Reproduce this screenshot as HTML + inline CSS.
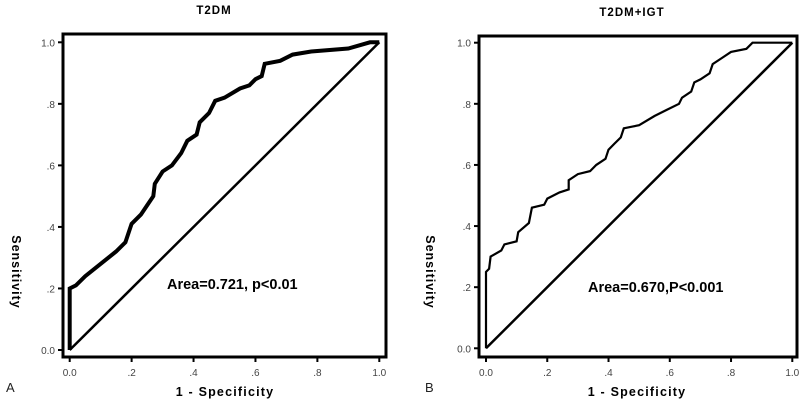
<!DOCTYPE html>
<html><head><meta charset="utf-8"><style>
html,body{margin:0;padding:0;background:#fff;}
svg{display:block;font-family:"Liberation Sans",Arial,sans-serif;}
</style></head><body>
<svg id="chart" width="800" height="400" viewBox="0 0 800 400"></svg>
<script>
const tickValues = [0, 0.2, 0.4, 0.6, 0.8, 1.0];
const tickLabels = ["0.0", ".2", ".4", ".6", ".8", "1.0"];
const rocAFpr = [0,0,0.02,0.05,0.1,0.15,0.18,0.2,0.23,0.25,0.27,0.275,0.3,0.33,0.36,0.38,0.41,0.42,0.45,0.47,0.5,0.55,0.58,0.6,0.62,0.63,0.68,0.72,0.78,0.9,0.97,1];
const rocATpr = [0,0.2,0.21,0.24,0.28,0.32,0.35,0.41,0.44,0.47,0.5,0.54,0.58,0.6,0.64,0.68,0.7,0.74,0.77,0.81,0.82,0.85,0.86,0.88,0.89,0.93,0.94,0.96,0.97,0.98,1,1];
const rocBFpr = [0,0,0.01,0.015,0.05,0.06,0.1,0.105,0.14,0.15,0.19,0.2,0.24,0.27,0.27,0.3,0.34,0.36,0.39,0.4,0.42,0.44,0.45,0.5,0.55,0.59,0.63,0.64,0.67,0.68,0.7,0.73,0.74,0.77,0.8,0.85,0.87,1];
const rocBTpr = [0,0.25,0.26,0.3,0.32,0.34,0.35,0.38,0.41,0.46,0.47,0.49,0.51,0.52,0.55,0.57,0.58,0.6,0.62,0.65,0.67,0.69,0.72,0.73,0.76,0.78,0.8,0.82,0.84,0.87,0.88,0.9,0.93,0.95,0.97,0.98,1,1];

const NS = "http://www.w3.org/2000/svg";
const svg = document.getElementById("chart");
function mk(tag, attrs, parent){ const e=document.createElementNS(NS,tag); for(const k in attrs) e.setAttribute(k,attrs[k]); (parent||svg).appendChild(e); return e; }

const panels = [
 {id:"a", frame:[63,34,386,357], x0:69.7, x1:379.3, y0:350, y1:42.3, fpr:rocAFpr, tpr:rocATpr, lw:4,
  title:"T2DM", tx:214, ty:14, area:"Area=0.721, p<0.01", ax:167, ay:289, letter:"A", lx:6, ly:392, sx:12, xlab:225, xly:396},
 {id:"b", frame:[479,36,797,357], x0:486, x1:792.3, y0:348.3, y1:42.7, fpr:rocBFpr, tpr:rocBTpr, lw:2.2,
  title:"T2DM+IGT", tx:632, ty:16, area:"Area=0.670,P<0.001", ax:588, ay:292, letter:"B", lx:425, ly:392, sx:426, xlab:637, xly:396}
];

panels.forEach(p=>{
  const g = mk("g",{});
  
  
  const xs = v=>p.x0+(p.x1-p.x0)*v, ys=v=>p.y0+(p.y1-p.y0)*v;
  const f=p.frame;
  const fr=mk("rect",{x:f[0],y:f[1],width:f[2]-f[0],height:f[3]-f[1],fill:"none",stroke:"#000","stroke-width":3},g);
  
  
  tickValues.forEach((v,i)=>{
    mk("line",{x1:xs(v),x2:xs(v),y1:f[3],y2:f[3]+5,stroke:"#000","stroke-width":2},g);
    const xt=mk("text",{x:xs(v),y:f[3]+19,"font-size":10,fill:"#444","text-anchor":"middle"},g);
    xt.textContent=tickLabels[i];
    
    
    mk("line",{x1:f[0]-5,x2:f[0],y1:ys(v),y2:ys(v),stroke:"#000","stroke-width":2},g);
    const yt=mk("text",{x:f[0]-8,y:ys(v)+4,"font-size":10,fill:"#444","text-anchor":"end"},g);
    yt.textContent=tickLabels[i];
    
    
  });
  const diag=mk("line",{x1:xs(0),y1:ys(0),x2:xs(1),y2:ys(1),stroke:"#000","stroke-width":2.5},g);
  
  
  const pts=p.fpr.map((v,i)=>xs(v).toFixed(1)+","+ys(p.tpr[i]).toFixed(1)).join(" ");
  const c=mk("polyline",{points:pts,fill:"none",stroke:"#000","stroke-width":p.lw,"stroke-linejoin":"miter"},g);
  
  
  const t=mk("text",{x:p.tx,y:p.ty,"font-size":11.5,"font-weight":"bold","text-anchor":"middle","letter-spacing":"1"},g);
  t.textContent=p.title;
  
  
  const a=mk("text",{x:p.ax,y:p.ay,"font-size":14.5,"font-weight":"bold"},g);
  a.textContent=p.area;
  
  
  const xl=mk("text",{x:p.xlab,y:p.xly,"font-size":12.5,"font-weight":"bold","text-anchor":"middle","letter-spacing":"1.2"},g);
  xl.textContent="1 - Specificity";
  
  
  const yl=mk("text",{x:p.sx,y:272,"font-size":12.5,"font-weight":"bold","text-anchor":"middle","letter-spacing":"1",transform:"rotate(90 "+p.sx+" 272)"},g);
  yl.textContent="Sensitivity";
  
  
  const l=mk("text",{x:p.lx,y:p.ly,"font-size":13,fill:"#222"},g);
  l.textContent=p.letter;
  
  
});
</script>
</body></html>
